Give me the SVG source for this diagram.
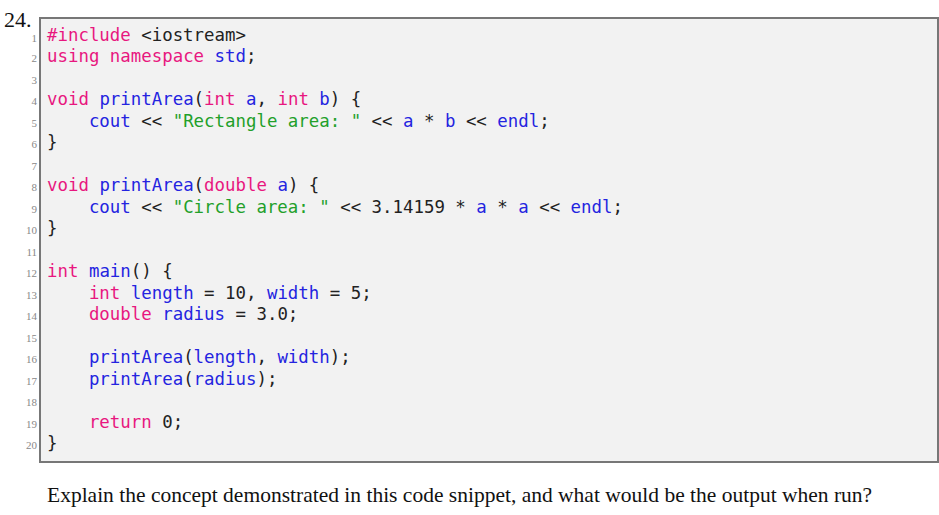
<svg xmlns="http://www.w3.org/2000/svg" width="939" height="515" viewBox="0 0 939 515">
<style>
.c{font-family:"DejaVu Sans Mono","Liberation Mono",monospace;font-size:17.4px;fill:#222;white-space:pre}
.k{fill:#e8177f}.f{fill:#2424e0}.s{fill:#22a02a}
.n{font-family:"Liberation Serif",serif;font-size:11px;fill:#888;text-anchor:end}
.t{font-family:"Liberation Serif",serif;fill:#111}
</style>
<rect width="939" height="515" fill="#fff"/>
<text class="t" x="4" y="27" font-size="22">24.</text>
<rect x="40" y="18" width="898" height="444" fill="#f2f2f2" stroke="#777" stroke-width="2"/>
<g id="linenums">
<text class="n" x="37" y="42">1</text><text class="n" x="37" y="62">2</text><text class="n" x="37" y="84">3</text><text class="n" x="37" y="105">4</text><text class="n" x="37" y="127">5</text><text class="n" x="37" y="148">6</text><text class="n" x="37" y="170">7</text><text class="n" x="37" y="191">8</text><text class="n" x="37" y="213">9</text><text class="n" x="37" y="234">10</text><text class="n" x="37" y="256">11</text><text class="n" x="37" y="277">12</text><text class="n" x="37" y="299">13</text><text class="n" x="37" y="320">14</text><text class="n" x="37" y="342">15</text><text class="n" x="37" y="363">16</text><text class="n" x="37" y="385">17</text><text class="n" x="37" y="406">18</text><text class="n" x="37" y="428">19</text><text class="n" x="37" y="449">20</text>
</g>
<g id="code" xml:space="preserve">
<text class="c" x="47" y="41"><tspan class="k">#include</tspan> &lt;iostream&gt;</text>
<text class="c" x="47" y="62"><tspan class="k">using</tspan> <tspan class="k">namespace</tspan> <tspan class="f">std</tspan>;</text>
<text class="c" x="47" y="105"><tspan class="k">void</tspan> <tspan class="f">printArea</tspan>(<tspan class="k">int</tspan> <tspan class="f">a</tspan>, <tspan class="k">int</tspan> <tspan class="f">b</tspan>) {</text>
<text class="c" x="47" y="127">    <tspan class="f">cout</tspan> &lt;&lt; <tspan class="s">"Rectangle area: "</tspan> &lt;&lt; <tspan class="f">a</tspan> * <tspan class="f">b</tspan> &lt;&lt; <tspan class="f">endl</tspan>;</text>
<text class="c" x="47" y="148">}</text>
<text class="c" x="47" y="191"><tspan class="k">void</tspan> <tspan class="f">printArea</tspan>(<tspan class="k">double</tspan> <tspan class="f">a</tspan>) {</text>
<text class="c" x="47" y="213">    <tspan class="f">cout</tspan> &lt;&lt; <tspan class="s">"Circle area: "</tspan> &lt;&lt; 3.14159 * <tspan class="f">a</tspan> * <tspan class="f">a</tspan> &lt;&lt; <tspan class="f">endl</tspan>;</text>
<text class="c" x="47" y="234">}</text>
<text class="c" x="47" y="277"><tspan class="k">int</tspan> <tspan class="f">main</tspan>() {</text>
<text class="c" x="47" y="299">    <tspan class="k">int</tspan> <tspan class="f">length</tspan> = 10, <tspan class="f">width</tspan> = 5;</text>
<text class="c" x="47" y="320">    <tspan class="k">double</tspan> <tspan class="f">radius</tspan> = 3.0;</text>
<text class="c" x="47" y="363">    <tspan class="f">printArea</tspan>(<tspan class="f">length</tspan>, <tspan class="f">width</tspan>);</text>
<text class="c" x="47" y="385">    <tspan class="f">printArea</tspan>(<tspan class="f">radius</tspan>);</text>
<text class="c" x="47" y="428">    <tspan class="k">return</tspan> 0;</text>
<text class="c" x="47" y="449">}</text>
</g>
<text class="t" x="47" y="502" font-size="21.5">Explain the concept demonstrated in this code snippet, and what would be the output when run?</text>
</svg>
